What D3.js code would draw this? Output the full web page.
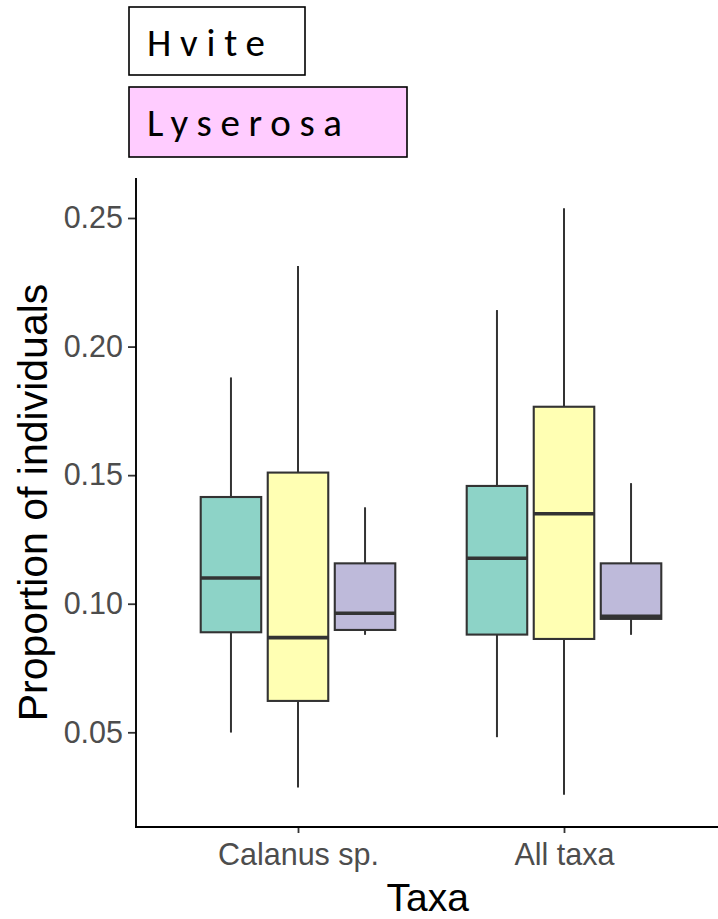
<!DOCTYPE html>
<html>
<head>
<meta charset="utf-8">
<script src="https://cdn.jsdelivr.net/npm/d3@7"></script>
<style>
  html, body { margin: 0; padding: 0; background: #ffffff; }
  svg { display: block; }
</style>
</head>
<body>
<div id="chart"></div>
<script>
// Taxa on the x axis and the three boxplot groups drawn side by side within each
const taxa = ["Calanus sp.", "All taxa"];
const groups = ["group1", "group2", "group3"];
const groupFills = ["#8DD3C7", "#FFFFB3", "#BEBADA"];

// Five-number summaries, one row per taxon, one entry per group
const whiskerLow  = [[0.0499, 0.0285, 0.0879], [0.0481, 0.0257, 0.0879]];
const q1          = [[0.0889, 0.0622, 0.0898], [0.0880, 0.0863, 0.0941]];
const median      = [[0.1100, 0.0868, 0.0963], [0.1177, 0.1350, 0.0951]];
const q3          = [[0.1415, 0.1510, 0.1157], [0.1458, 0.1766, 0.1157]];
const whiskerHigh = [[0.1880, 0.2313, 0.1375], [0.2142, 0.2538, 0.1469]];

const yTicks = [0.05, 0.10, 0.15, 0.20, 0.25];

// Header tags above the plot
const tags = ["Hvite", "Lyserosa"];
const tagFills = ["#FFFFFF", "#FFCCFF"];

const W = 718, H = 919;
const panel = { left: 136, right: 723.6, top: 178, bottom: 827 };

const svg = d3.select("#chart").append("svg")
  .attr("width", W).attr("height", H)
  .attr("viewBox", `0 0 ${W} ${H}`);

svg.append("rect").attr("width", W).attr("height", H).attr("fill", "#ffffff");

// Scales
const x = d3.scalePoint().domain(taxa).range([138.4, 723.6]).padding(0.6);
const y = d3.scaleLinear().domain([0.05, 0.25]).range([732.3, 218]);

const step = x.step();
const dodge = step * 0.252;
const boxW = step * 0.2275;

// Build box records from the arrays
const boxes = [];
taxa.forEach((t, ti) => {
  groups.forEach((g, gi) => {
    boxes.push({
      taxon: t, group: g, gi,
      lo: whiskerLow[ti][gi], q1: q1[ti][gi], med: median[ti][gi],
      q3: q3[ti][gi], hi: whiskerHigh[ti][gi],
      cx: x(t) + (gi - 1) * dodge
    });
  });
});

const plot = svg.append("g");
const lineCol = "#333333";

const b = plot.selectAll("g.box").data(boxes).join("g").attr("class", "box");

// Whiskers
b.append("line")
  .attr("x1", d => d.cx).attr("x2", d => d.cx)
  .attr("y1", d => y(d.hi)).attr("y2", d => y(d.q3))
  .attr("stroke", lineCol).attr("stroke-width", 2);
b.append("line")
  .attr("x1", d => d.cx).attr("x2", d => d.cx)
  .attr("y1", d => y(d.q1)).attr("y2", d => y(d.lo))
  .attr("stroke", lineCol).attr("stroke-width", 2);

// Boxes
b.append("rect")
  .attr("x", d => d.cx - boxW / 2).attr("width", boxW)
  .attr("y", d => y(d.q3)).attr("height", d => y(d.q1) - y(d.q3))
  .attr("fill", d => groupFills[d.gi])
  .attr("stroke", lineCol).attr("stroke-width", 2.1);

// Medians
b.append("line")
  .attr("x1", d => d.cx - boxW / 2).attr("x2", d => d.cx + boxW / 2)
  .attr("y1", d => y(d.med)).attr("y2", d => y(d.med))
  .attr("stroke", lineCol).attr("stroke-width", 3.6);

// Axes
const font = "'Liberation Sans', Arial, sans-serif";

const yAxis = svg.append("g").attr("transform", `translate(${panel.left},0)`)
  .call(d3.axisLeft(y).tickValues(yTicks).tickFormat(d3.format(".2f")).tickSize(8).tickPadding(5));
yAxis.select(".domain").remove();
yAxis.selectAll(".tick line").attr("stroke", lineCol).attr("stroke-width", 1.8);
yAxis.selectAll(".tick text")
  .attr("fill", "#4D4D4D").style("font-family", font).style("font-size", "30.5px");

const xAxis = svg.append("g").attr("transform", `translate(0,${panel.bottom})`)
  .call(d3.axisBottom(x).tickSize(6).tickPadding(4));
xAxis.select(".domain").remove();
xAxis.selectAll(".tick line").attr("stroke", lineCol).attr("stroke-width", 1.8);
xAxis.selectAll(".tick text")
  .attr("fill", "#4D4D4D").attr("dy", null).attr("y", 38)
  .style("font-family", font).style("font-size", "30.5px");

// Axis lines
svg.append("line")
  .attr("x1", panel.left).attr("x2", panel.left)
  .attr("y1", panel.top).attr("y2", panel.bottom + 0.9)
  .attr("stroke", "#000").attr("stroke-width", 1.9);
svg.append("line")
  .attr("x1", panel.left - 0.9).attr("x2", W)
  .attr("y1", panel.bottom).attr("y2", panel.bottom)
  .attr("stroke", "#000").attr("stroke-width", 1.9);

// Axis titles
svg.append("text")
  .attr("x", (panel.left + panel.right) / 2 - 2).attr("y", 911)
  .attr("text-anchor", "middle")
  .style("font-family", font).style("font-size", "39px").attr("fill", "#000")
  .text("Taxa");
svg.append("text")
  .attr("transform", `translate(47,${(panel.top + panel.bottom) / 2}) rotate(-90)`)
  .attr("text-anchor", "middle")
  .style("font-family", font).style("font-size", "41px").attr("fill", "#000")
  .text("Proportion of individuals");

// Header tags
const tagBoxes = [
  { x: 129, y: 7, w: 176, h: 68, tx: 147, ty: 56, len: 118 },
  { x: 129, y: 87, w: 278, h: 70, tx: 147, ty: 136, len: 195 }
];
tags.forEach((t, i) => {
  const tb = tagBoxes[i];
  svg.append("rect")
    .attr("x", tb.x).attr("y", tb.y).attr("width", tb.w).attr("height", tb.h)
    .attr("fill", tagFills[i]).attr("stroke", "#000").attr("stroke-width", 1.6);
  svg.append("text")
    .attr("x", tb.tx).attr("y", tb.ty)
    .attr("textLength", tb.len).attr("lengthAdjust", "spacing")
    .style("font-family", "Carlito, Lato, 'Open Sans', sans-serif")
    .style("font-size", "39px").attr("fill", "#000")
    .text(t);
});
</script>
</body>
</html>
